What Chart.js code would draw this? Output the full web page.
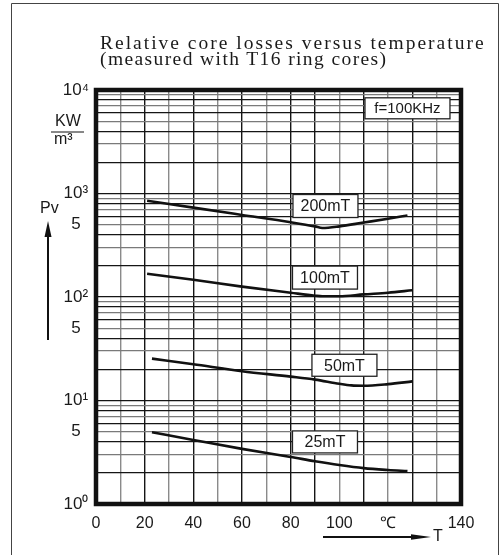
<!DOCTYPE html>
<html>
<head>
<meta charset="utf-8">
<script src="https://cdn.jsdelivr.net/npm/chart.js@4/dist/chart.umd.min.js"></script>
<style>
  html, body { margin: 0; padding: 0; background: #fff; overflow: hidden; }
  #wrap { position: relative; width: 501px; height: 555px; }
  canvas { position: absolute; left: 0; top: 0; }
  .txt { position: absolute; color: #1a1a1a; white-space: nowrap; }
  .sans { font-family: "Liberation Sans", Arial, Helvetica, sans-serif; font-size: 16px; line-height: 16px; }
  #title { left: 100px; top: 35px; font-family: "Liberation Serif", "Times New Roman", serif; font-size: 19.5px; line-height: 16px; }
  #title .l1 { letter-spacing: 2px; }
  #title .l2 { letter-spacing: 1.4px; }
  svg { position: absolute; left: 0; top: 0; pointer-events: none; }
</style>
</head>
<body>
<div id="wrap">
  <canvas id="c" width="501" height="555"></canvas>
  <svg width="501" height="555">
    <path d="M11.5 556 V3.5 H498.5 V556" fill="none" stroke="#444" stroke-width="1"/>
    <line x1="48" y1="232" x2="48" y2="340" stroke="#111" stroke-width="2"/>
    <polygon points="48,221 44.5,237 51.5,237" fill="#111"/>
    <line x1="323" y1="537" x2="415" y2="537" stroke="#111" stroke-width="2"/>
    <polygon points="431,537 411,534.3 411,539.7" fill="#111"/>
    <line x1="51" y1="132" x2="84" y2="132" stroke="#111" stroke-width="1"/>
  </svg>
  <div id="title" class="txt"><span class="l1">Relative core losses versus temperature</span><br><span class="l2">(measured with T16 ring cores)</span></div>
  <div class="txt sans" style="left:55px;top:113px;">KW</div>
  <div class="txt sans" style="left:54px;top:131px;">m³</div>
  <div class="txt sans" style="left:40px;top:200px;">Pv</div>
  <div class="txt sans" style="left:433px;top:528px;">T</div>
</div>
<script>
// ---- data ----
const temps200 = [21, 40, 60, 80, 90, 93, 100, 110, 120, 128];
const loss200  = [850, 730, 621, 528, 481, 464, 481, 524, 571, 614];

const temps100 = [21, 40, 60, 80, 90, 93, 100, 110, 120, 130];
const loss100  = [168, 146.5, 126, 110, 103, 101.6, 101.6, 106, 110, 116];

const temps50 = [23, 40, 60, 80, 90, 100, 105, 110, 120, 130];
const loss50  = [25.4, 22.4, 19.2, 17.0, 15.9, 14.5, 14.0, 13.9, 14.4, 15.3];

const temps25 = [23, 40, 60, 80, 90, 100, 110, 120, 128];
const loss25  = [4.93, 4.16, 3.41, 2.85, 2.59, 2.38, 2.22, 2.13, 2.08];

const seriesNames = ['200mT', '100mT', '50mT', '25mT'];

// ---- tick labels ----
const xTickValues = [0, 20, 40, 60, 80, 100, 120, 150];
const xTickLabels = ['0', '20', '40', '60', '80', '100', '℃', '140'];
const yTickValues = [1, 5, 10, 50, 100, 500, 1000, 10000];
const yTickLabels = ['10⁰', '5', '10¹', '5', '10²', '5', '10³', '10⁴'];
const yDecades = [1, 10, 100, 1000];
const frequencyNote = 'f=100KHz';

// log grid values (1..9 per decade, plus the top)
const yGridValues = [];
yDecades.forEach(d => { for (let k = 1; k <= 9; k++) yGridValues.push(k * d); });
yGridValues.push(10000);

const toPoints = (xs, ys) => xs.map((x, i) => ({ x: x, y: ys[i] }));

const FONT = '"Liberation Sans", Arial, Helvetica, sans-serif';

const framePlugin = {
  id: 'frame',
  afterDatasetsDraw(chart) {
    const { ctx, chartArea: a } = chart;
    ctx.save();
    ctx.strokeStyle = '#111';
    ctx.lineWidth = 4.5;
    ctx.strokeRect(a.left, a.top, a.right - a.left, a.bottom - a.top);
    ctx.restore();
  }
};

const boxLabelPlugin = {
  id: 'boxLabels',
  afterDraw(chart, args, opts) {
    const { ctx } = chart;
    const xs = chart.scales.x, ys = chart.scales.y;
    ctx.save();
    opts.items.forEach(it => {
      const cx = xs.getPixelForValue(it.x);
      const cy = ys.getPixelForValue(it.y);
      const w = it.w, h = it.h;
      ctx.fillStyle = '#fff';
      ctx.fillRect(cx - w / 2, cy - h / 2, w, h);
      ctx.strokeStyle = '#222';
      ctx.lineWidth = 1.3;
      ctx.strokeRect(cx - w / 2, cy - h / 2, w, h);
      ctx.fillStyle = '#1a1a1a';
      ctx.font = it.size + 'px ' + FONT;
      ctx.textAlign = 'center';
      ctx.textBaseline = 'middle';
      ctx.fillText(it.text, cx, cy + 1);
    });
    ctx.restore();
  }
};

const darkX = [20, 40, 60, 80, 90, 110, 130];

const lineStyle = {
  borderColor: '#111',
  borderWidth: 2.6,
  pointRadius: 0,
  fill: false,
  cubicInterpolationMode: 'monotone'
};

new Chart(document.getElementById('c'), {
  type: 'line',
  data: {
    datasets: [
      Object.assign({ label: seriesNames[0], data: toPoints(temps200, loss200) }, lineStyle),
      Object.assign({ label: seriesNames[1], data: toPoints(temps100, loss100) }, lineStyle),
      Object.assign({ label: seriesNames[2], data: toPoints(temps50, loss50) }, lineStyle),
      Object.assign({ label: seriesNames[3], data: toPoints(temps25, loss25) }, lineStyle)
    ]
  },
  options: {
    responsive: false,
    animation: false,
    devicePixelRatio: 1,
    layout: { padding: { left: 46, right: 40, top: 90, bottom: 21 } },
    plugins: {
      legend: { display: false },
      tooltip: { enabled: false },
      title: { display: false },
      boxLabels: {
        items: [
          { text: seriesNames[0], x: 94.3, y: 757, w: 65, h: 23, size: 16 },
          { text: seriesNames[1], x: 94.1, y: 154, w: 65, h: 23, size: 16 },
          { text: seriesNames[2], x: 102.1, y: 21.9, w: 65, h: 22, size: 16 },
          { text: seriesNames[3], x: 94.1, y: 3.98, w: 65, h: 22, size: 16 },
          { text: frequencyNote, x: 128, y: 6655, w: 85, h: 21, size: 15 }
        ]
      }
    },
    scales: {
      x: {
        type: 'linear',
        min: 0,
        max: 150,
        afterFit(scale) { scale.height = 30; },
        afterBuildTicks(scale) {
          const t = [];
          for (let v = 0; v <= 150; v += 10) t.push({ value: v });
          scale.ticks = t;
        },
        border: { display: false },
        grid: {
          drawTicks: false,
          color: (c) => (darkX.includes(c.tick && c.tick.value) ? '#151515' : '#8a8a8a'),
          lineWidth: 1.4
        },
        ticks: {
          autoSkip: false,
          maxRotation: 0,
          padding: 10,
          color: '#1a1a1a',
          font: { family: FONT, size: 16 },
          callback: (v) => {
            const i = xTickValues.indexOf(v);
            return i >= 0 ? xTickLabels[i] : '';
          }
        }
      },
      y: {
        type: 'logarithmic',
        min: 1,
        max: 10000,
        afterFit(scale) { scale.width = 50; },
        afterBuildTicks(scale) {
          scale.ticks = yGridValues.map(v => ({ value: v }));
        },
        border: { display: false },
        grid: {
          drawTicks: false,
          color: (c) => {
            const v = c.tick ? c.tick.value : 1;
            const s = Math.round(v / Math.pow(10, Math.floor(Math.log10(v) + 1e-9)));
            return (s === 1 || s % 2 === 0) ? '#151515' : '#7a7a7a';
          },
          lineWidth: 1.3
        },
        ticks: {
          autoSkip: false,
          padding: 7,
          crossAlign: 'center',
          color: '#1a1a1a',
          font: { family: FONT, size: 17 },
          callback: (v) => {
            const i = yTickValues.findIndex(t => Math.abs(t - v) < 1e-6 * t);
            return i >= 0 ? yTickLabels[i] : '';
          }
        }
      }
    }
  },
  plugins: [framePlugin, boxLabelPlugin]
});
</script>
</body>
</html>
